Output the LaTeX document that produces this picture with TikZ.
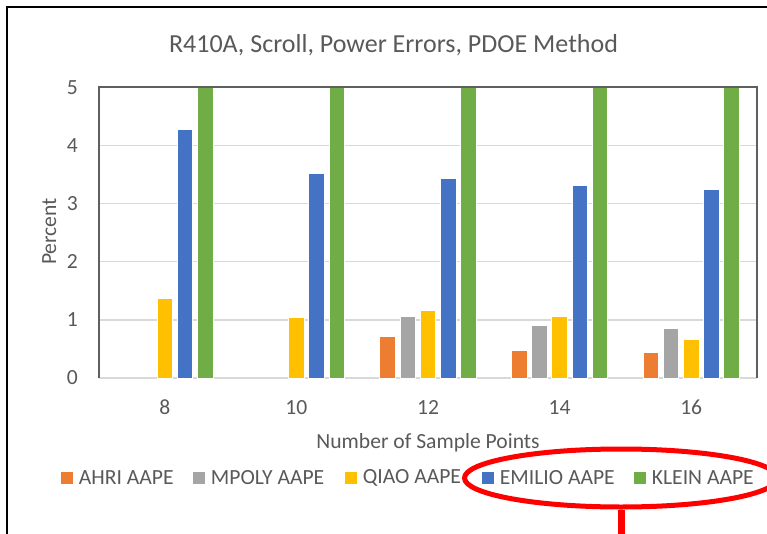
\documentclass[tikz,border=0pt]{standalone}
\usepackage{fontspec}
\setmainfont{Carlito}
\usepackage{tikz}
\usetikzlibrary{shapes.geometric,positioning}

\definecolor{ahri}{HTML}{ED7D31}
\definecolor{mpoly}{HTML}{A5A5A5}
\definecolor{qiao}{HTML}{FFC000}
\definecolor{emilio}{HTML}{4472C4}
\definecolor{klein}{HTML}{70AD47}
\definecolor{txtgray}{HTML}{595959}
\definecolor{gridgray}{HTML}{D9D9D9}
\definecolor{axisgray}{HTML}{5F5F5F}

\begin{document}
\begin{tikzpicture}[x=1pt,y=-1pt]
			\tikzstyle{Title}	= [text=txtgray, font=\fontsize{26}{30}\selectfont, inner sep=0pt]
			\tikzstyle{Label}	= [text=txtgray, font=\fontsize{21.6}{25}\selectfont, inner sep=0pt]
			\tikzstyle{Grid}	= [draw=gridgray, line width=1.2pt]
			\tikzstyle{Frame}	= [draw=axisgray, line width=1.3pt]
			\tikzstyle{Bar}		= [draw=white, line width=0.8pt]
			\tikzstyle{Key}		= [minimum size=12pt, inner sep=0pt]
			\tikzstyle{Ring}	= [ellipse, draw=red, line width=5pt, minimum width=313pt, minimum height=58pt, inner sep=0pt]
			\tikzstyle{Tail}	= [red, line width=7pt]

			\useasboundingbox (0,0) rectangle (767,534);
			\draw [black, line width=2pt] (7,545) -- (7,7) -- (775,7);

			\node (title) at (393.5,53) [Title][anchor=base] {R410A, Scroll, Power Errors, PDOE Method};

			\foreach \v in {1,...,4}
				\draw [Grid] (99,{378-58.08*\v}) -- (757,{378-58.08*\v});
			\draw [Grid] (99,378) -- (757,378);

			\begin{scope}[shift={(0,378)}, y=58.08pt]
				\foreach \i/\v in {2/0.71, 3/0.48, 4/0.44}
					\filldraw [Bar, fill=ahri] ({157+131.6*\i-40.4},0) rectangle ++(15.6,\v);
				\foreach \i/\v in {2/1.06, 3/0.90, 4/0.86}
					\filldraw [Bar, fill=mpoly] ({157+131.6*\i-20.2},0) rectangle ++(15.6,\v);
				\foreach \i/\v in {0/1.37, 1/1.04, 2/1.17, 3/1.06, 4/0.66}
					\filldraw [Bar, fill=qiao] ({157+131.6*\i},0) rectangle ++(15.6,\v);
				\foreach \i/\v in {0/4.28, 1/3.53, 2/3.44, 3/3.32, 4/3.24}
					\filldraw [Bar, fill=emilio] ({157+131.6*\i+20.2},0) rectangle ++(15.6,\v);
				\foreach \i in {0,...,4}
					\filldraw [Bar, fill=klein] ({157+131.6*\i+40.4},0) rectangle ++(15.6,5);
			\end{scope}

			\draw [Frame] (99,378) -- (99,87) -- (757,87) -- (757,378);

			\foreach \v in {0,...,5}
				\node (y\v) at (78,{378-58.08*\v}) [Label][anchor=east] {\v};
			\foreach \c [count=\i from 0] in {8,10,12,14,16}
				\node (x\c) at ({164.8+131.6*\i},414) [Label][anchor=base] {\c};

			\node (ylabel) at (56,231.5) [Label][rotate=90, anchor=base] {Percent};
			\node (xlabel) at (428,448) [Label][anchor=base] {Number of Sample Points};

			\node (kahri) at (67,478) [Key][fill=ahri] {};
			\node (tahri) [Label][right=5.5pt of kahri] {AHRI AAPE};
			\node (kmpoly) at (199,478) [Key][fill=mpoly] {};
			\node (tmpoly) [Label][right=5.5pt of kmpoly] {MPOLY AAPE};
			\node (kqiao) at (351,478) [Key][fill=qiao] {};
			\node (tqiao) [Label][right=5.5pt of kqiao] {QIAO AAPE};
			\node (kemilio) at (488,478) [Key][fill=emilio] {};
			\node (temilio) [Label][right=5.5pt of kemilio] {EMILIO AAPE};
			\node (kklein) at (640,478) [Key][fill=klein] {};
			\node (tklein) [Label][right=5.5pt of kklein] {KLEIN AAPE};

			\node (ring) at (621,478) [Ring] {};
			\coordinate (tail) at (621,545);
			\draw [Tail] (ring.south) -- (tail);
		\end{tikzpicture}
\end{document}
